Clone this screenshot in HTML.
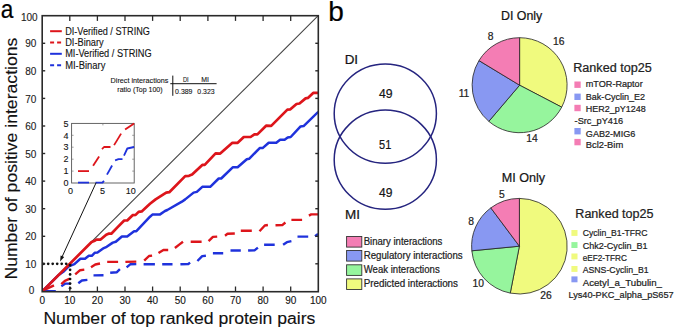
<!DOCTYPE html>
<html><head><meta charset="utf-8"><style>
html,body{margin:0;padding:0;background:#fff;width:675px;height:329px;overflow:hidden;}
svg{display:block;font-family:"Liberation Sans",sans-serif;}
svg text{stroke:#222;stroke-width:0.22px;}
svg text.sm{stroke-width:0.1px;}
svg text.lt{stroke-width:0.12px;}
</style></head><body>
<svg width="675" height="329" viewBox="0 0 675 329">
<rect width="675" height="329" fill="#fff"/>
<text x="0.8" y="17.8" font-size="25.5" font-family="'Liberation Sans', sans-serif" fill="#000" textLength="12.6" lengthAdjust="spacingAndGlyphs">a</text>
<text x="328.2" y="20.8" font-size="27" font-family="'Liberation Sans', sans-serif" fill="#000" textLength="15.6" lengthAdjust="spacingAndGlyphs">b</text>
<line x1="42.2" y1="291.0" x2="318.2" y2="15.7" stroke="#444" stroke-width="1.1"/>
<defs><clipPath id="pc"><rect x="42.2" y="15" width="276.1" height="277"/></clipPath></defs>
<g clip-path="url(#pc)">
<polyline points="43.6,291.3 55.8,291.3" fill="none" stroke="#1f32dc" stroke-width="2.4" stroke-linejoin="round"/>
<polyline points="61.3,286.3 65.5,283.6 70.4,283.6" fill="none" stroke="#1f32dc" stroke-width="2.4" stroke-linejoin="round"/>
<polyline points="78.3,283.2 81.9,280.5 87.4,279.9" fill="none" stroke="#1f32dc" stroke-width="2.4" stroke-linejoin="round"/>
<polyline points="93.5,275.4 103.5,275.2" fill="none" stroke="#1f32dc" stroke-width="2.4" stroke-linejoin="round"/>
<polyline points="110.2,272.8 116.9,272.2 119.9,269.2" fill="none" stroke="#1f32dc" stroke-width="2.4" stroke-linejoin="round"/>
<polyline points="126.6,267.3 130.2,264.3 136.3,264.1" fill="none" stroke="#1f32dc" stroke-width="2.4" stroke-linejoin="round"/>
<polyline points="143.6,264.2 154.9,264.2" fill="none" stroke="#1f32dc" stroke-width="2.4" stroke-linejoin="round"/>
<polyline points="162.2,264.3 172.5,264.3" fill="none" stroke="#1f32dc" stroke-width="2.4" stroke-linejoin="round"/>
<polyline points="180.4,264.3 188.3,264.0 190.1,262.6" fill="none" stroke="#1f32dc" stroke-width="2.4" stroke-linejoin="round"/>
<polyline points="197.4,261.0 202.2,256.1 205.9,255.8" fill="none" stroke="#1f32dc" stroke-width="2.4" stroke-linejoin="round"/>
<polyline points="212.9,253.3 223.2,253.3" fill="none" stroke="#1f32dc" stroke-width="2.4" stroke-linejoin="round"/>
<polyline points="230.5,250.5 240.8,250.5" fill="none" stroke="#1f32dc" stroke-width="2.4" stroke-linejoin="round"/>
<polyline points="248.1,250.5 254.8,250.2 257.9,247.6" fill="none" stroke="#1f32dc" stroke-width="2.4" stroke-linejoin="round"/>
<polyline points="264.1,244.8 274.7,244.8" fill="none" stroke="#1f32dc" stroke-width="2.4" stroke-linejoin="round"/>
<polyline points="283.1,244.8 286.9,242.2 291.4,241.2" fill="none" stroke="#1f32dc" stroke-width="2.4" stroke-linejoin="round"/>
<polyline points="297.5,236.6 308.2,236.6" fill="none" stroke="#1f32dc" stroke-width="2.4" stroke-linejoin="round"/>
<polyline points="315.0,236.2 317.3,234.6 318.8,234.2" fill="none" stroke="#1f32dc" stroke-width="2.4" stroke-linejoin="round"/>
<polyline points="44.9,289.6 54.0,285.4" fill="none" stroke="#dd151b" stroke-width="2.4" stroke-linejoin="round"/>
<polyline points="61.3,284.2 64.9,280.8 69.8,278.7" fill="none" stroke="#dd151b" stroke-width="2.4" stroke-linejoin="round"/>
<polyline points="75.2,274.4 80.1,270.2 84.3,269.6" fill="none" stroke="#dd151b" stroke-width="2.4" stroke-linejoin="round"/>
<polyline points="91.0,267.2 95.3,264.5 100.0,263.5" fill="none" stroke="#dd151b" stroke-width="2.4" stroke-linejoin="round"/>
<polyline points="107.2,261.9 118.1,261.9" fill="none" stroke="#dd151b" stroke-width="2.4" stroke-linejoin="round"/>
<polyline points="125.4,261.9 136.3,261.6" fill="none" stroke="#dd151b" stroke-width="2.4" stroke-linejoin="round"/>
<polyline points="144.2,260.7 149.0,256.0 152.1,255.6" fill="none" stroke="#dd151b" stroke-width="2.4" stroke-linejoin="round"/>
<polyline points="158.5,253.1 163.4,250.0 168.2,250.0" fill="none" stroke="#dd151b" stroke-width="2.4" stroke-linejoin="round"/>
<polyline points="174.9,248.0 179.2,244.6 183.0,241.8" fill="none" stroke="#dd151b" stroke-width="2.4" stroke-linejoin="round"/>
<polyline points="190.7,241.8 201.6,241.8" fill="none" stroke="#dd151b" stroke-width="2.4" stroke-linejoin="round"/>
<polyline points="208.6,241.1 212.9,236.9 217.2,236.6" fill="none" stroke="#dd151b" stroke-width="2.4" stroke-linejoin="round"/>
<polyline points="225.0,235.7 227.5,233.8 234.8,233.5" fill="none" stroke="#dd151b" stroke-width="2.4" stroke-linejoin="round"/>
<polyline points="240.8,230.8 251.8,230.8" fill="none" stroke="#dd151b" stroke-width="2.4" stroke-linejoin="round"/>
<polyline points="259.5,231.2 264.8,225.5 267.9,225.0" fill="none" stroke="#dd151b" stroke-width="2.4" stroke-linejoin="round"/>
<polyline points="275.5,225.2 282.3,225.1 285.4,222.5" fill="none" stroke="#dd151b" stroke-width="2.4" stroke-linejoin="round"/>
<polyline points="291.4,219.9 302.1,219.9" fill="none" stroke="#dd151b" stroke-width="2.4" stroke-linejoin="round"/>
<polyline points="308.9,215.6 311.2,214.4 318.0,214.4" fill="none" stroke="#dd151b" stroke-width="2.4" stroke-linejoin="round"/>
<polyline points="42.4,291.2 58.0,275.6 63.3,271.8 68.8,266.3 74.4,264.1 80.4,258.8 85.0,258.8 88.8,255.8 91.8,255.8 94.9,252.7 97.5,252.6 103.8,248.1 106.7,246.8 112.8,242.6 115.8,241.8 121.9,236.5 127.2,236.5 134.1,231.2 136.4,231.2 150.0,216.7 152.4,214.6 159.7,214.6 165.0,211.0 167.3,210.0 181.9,201.7 185.2,199.4 193.6,192.6 196.8,191.9 202.3,186.8 210.2,186.8 218.7,178.5 221.2,178.5 232.7,167.3 237.6,167.3 246.8,159.2 249.1,158.8 259.7,148.1 262.6,148.1 268.7,142.8 276.3,142.8 280.1,139.8 284.6,139.8 287.7,137.5 290.7,137.0 300.6,126.4 303.6,126.1 318.3,111.8" fill="none" stroke="#1f32dc" stroke-width="2.5" stroke-linejoin="round"/>
<polyline points="42.4,291.2 91.6,242.0 94.1,241.1 96.5,239.6 100.6,239.6 106.2,234.7 108.5,233.7 111.3,233.7 117.4,227.4 124.2,220.5 127.2,220.5 132.6,215.2 135.6,214.9 138.6,211.9 141.7,211.4 150.0,203.8 155.6,199.4 166.2,192.6 169.3,192.2 185.2,176.1 189.0,175.8 192.1,174.6 202.3,164.9 204.7,164.9 215.6,153.4 220.2,153.6 232.4,142.8 237.7,142.8 243.8,137.0 250.6,137.0 254.4,134.4 257.4,134.4 266.1,125.7 271.2,125.9 287.4,109.6 290.4,109.3 296.5,104.0 299.5,103.5 305.6,98.4 307.9,97.9 313.2,92.9 318.3,92.9" fill="none" stroke="#dd151b" stroke-width="2.7" stroke-linejoin="round"/>
</g>
<circle cx="43.7" cy="263.8" r="1.35" fill="#111"/>
<circle cx="48.2" cy="263.8" r="1.35" fill="#111"/>
<circle cx="52.7" cy="263.8" r="1.35" fill="#111"/>
<circle cx="57.2" cy="263.8" r="1.35" fill="#111"/>
<circle cx="61.7" cy="263.8" r="1.35" fill="#111"/>
<circle cx="66.2" cy="263.8" r="1.35" fill="#111"/>
<circle cx="70.1" cy="265.2" r="1.35" fill="#111"/>
<circle cx="70.1" cy="269.8" r="1.35" fill="#111"/>
<circle cx="70.1" cy="274.4" r="1.35" fill="#111"/>
<circle cx="70.1" cy="279.0" r="1.35" fill="#111"/>
<circle cx="70.1" cy="283.6" r="1.35" fill="#111"/>
<circle cx="70.1" cy="288.2" r="1.35" fill="#111"/>
<rect x="42.2" y="15.7" width="276.1" height="276" fill="none" stroke="#2a2a2a" stroke-width="1.6"/>
<line x1="69.8" y1="291.7" x2="69.8" y2="286.5" stroke="#2a2a2a" stroke-width="1.3"/>
<line x1="69.8" y1="15.7" x2="69.8" y2="20.9" stroke="#2a2a2a" stroke-width="1.3"/>
<line x1="42.2" y1="263.8" x2="45.2" y2="263.8" stroke="#2a2a2a" stroke-width="1.4"/>
<line x1="318.3" y1="263.8" x2="315.3" y2="263.8" stroke="#2a2a2a" stroke-width="1.4"/>
<line x1="97.4" y1="291.7" x2="97.4" y2="286.5" stroke="#2a2a2a" stroke-width="1.3"/>
<line x1="97.4" y1="15.7" x2="97.4" y2="20.9" stroke="#2a2a2a" stroke-width="1.3"/>
<line x1="42.2" y1="236.3" x2="45.2" y2="236.3" stroke="#2a2a2a" stroke-width="1.4"/>
<line x1="318.3" y1="236.3" x2="315.3" y2="236.3" stroke="#2a2a2a" stroke-width="1.4"/>
<line x1="125.0" y1="291.7" x2="125.0" y2="286.5" stroke="#2a2a2a" stroke-width="1.3"/>
<line x1="125.0" y1="15.7" x2="125.0" y2="20.9" stroke="#2a2a2a" stroke-width="1.3"/>
<line x1="42.2" y1="208.7" x2="45.2" y2="208.7" stroke="#2a2a2a" stroke-width="1.4"/>
<line x1="318.3" y1="208.7" x2="315.3" y2="208.7" stroke="#2a2a2a" stroke-width="1.4"/>
<line x1="152.6" y1="291.7" x2="152.6" y2="286.5" stroke="#2a2a2a" stroke-width="1.3"/>
<line x1="152.6" y1="15.7" x2="152.6" y2="20.9" stroke="#2a2a2a" stroke-width="1.3"/>
<line x1="42.2" y1="181.1" x2="45.2" y2="181.1" stroke="#2a2a2a" stroke-width="1.4"/>
<line x1="318.3" y1="181.1" x2="315.3" y2="181.1" stroke="#2a2a2a" stroke-width="1.4"/>
<line x1="180.2" y1="291.7" x2="180.2" y2="286.5" stroke="#2a2a2a" stroke-width="1.3"/>
<line x1="180.2" y1="15.7" x2="180.2" y2="20.9" stroke="#2a2a2a" stroke-width="1.3"/>
<line x1="42.2" y1="153.5" x2="45.2" y2="153.5" stroke="#2a2a2a" stroke-width="1.4"/>
<line x1="318.3" y1="153.5" x2="315.3" y2="153.5" stroke="#2a2a2a" stroke-width="1.4"/>
<line x1="207.9" y1="291.7" x2="207.9" y2="286.5" stroke="#2a2a2a" stroke-width="1.3"/>
<line x1="207.9" y1="15.7" x2="207.9" y2="20.9" stroke="#2a2a2a" stroke-width="1.3"/>
<line x1="42.2" y1="126.0" x2="45.2" y2="126.0" stroke="#2a2a2a" stroke-width="1.4"/>
<line x1="318.3" y1="126.0" x2="315.3" y2="126.0" stroke="#2a2a2a" stroke-width="1.4"/>
<line x1="235.5" y1="291.7" x2="235.5" y2="286.5" stroke="#2a2a2a" stroke-width="1.3"/>
<line x1="235.5" y1="15.7" x2="235.5" y2="20.9" stroke="#2a2a2a" stroke-width="1.3"/>
<line x1="42.2" y1="98.4" x2="45.2" y2="98.4" stroke="#2a2a2a" stroke-width="1.4"/>
<line x1="318.3" y1="98.4" x2="315.3" y2="98.4" stroke="#2a2a2a" stroke-width="1.4"/>
<line x1="263.1" y1="291.7" x2="263.1" y2="286.5" stroke="#2a2a2a" stroke-width="1.3"/>
<line x1="263.1" y1="15.7" x2="263.1" y2="20.9" stroke="#2a2a2a" stroke-width="1.3"/>
<line x1="42.2" y1="70.8" x2="45.2" y2="70.8" stroke="#2a2a2a" stroke-width="1.4"/>
<line x1="318.3" y1="70.8" x2="315.3" y2="70.8" stroke="#2a2a2a" stroke-width="1.4"/>
<line x1="290.7" y1="291.7" x2="290.7" y2="286.5" stroke="#2a2a2a" stroke-width="1.3"/>
<line x1="290.7" y1="15.7" x2="290.7" y2="20.9" stroke="#2a2a2a" stroke-width="1.3"/>
<line x1="42.2" y1="43.3" x2="45.2" y2="43.3" stroke="#2a2a2a" stroke-width="1.4"/>
<line x1="318.3" y1="43.3" x2="315.3" y2="43.3" stroke="#2a2a2a" stroke-width="1.4"/>
<text x="42.2" y="304.0" font-size="10" class="lt" font-family="'Liberation Sans', sans-serif" fill="#111" text-anchor="middle">0</text>
<text x="34.4" y="294.0" font-size="10" class="lt" font-family="'Liberation Sans', sans-serif" fill="#222" text-anchor="end">0</text>
<text x="69.8" y="304.0" font-size="10" class="lt" font-family="'Liberation Sans', sans-serif" fill="#111" text-anchor="middle">10</text>
<text x="36.3" y="267.9" font-size="10" class="lt" font-family="'Liberation Sans', sans-serif" fill="#222" text-anchor="end">10</text>
<text x="97.4" y="304.0" font-size="10" class="lt" font-family="'Liberation Sans', sans-serif" fill="#111" text-anchor="middle">20</text>
<text x="36.3" y="240.4" font-size="10" class="lt" font-family="'Liberation Sans', sans-serif" fill="#222" text-anchor="end">20</text>
<text x="125.0" y="304.0" font-size="10" class="lt" font-family="'Liberation Sans', sans-serif" fill="#111" text-anchor="middle">30</text>
<text x="36.3" y="212.8" font-size="10" class="lt" font-family="'Liberation Sans', sans-serif" fill="#222" text-anchor="end">30</text>
<text x="152.6" y="304.0" font-size="10" class="lt" font-family="'Liberation Sans', sans-serif" fill="#111" text-anchor="middle">40</text>
<text x="36.3" y="185.2" font-size="10" class="lt" font-family="'Liberation Sans', sans-serif" fill="#222" text-anchor="end">40</text>
<text x="180.2" y="304.0" font-size="10" class="lt" font-family="'Liberation Sans', sans-serif" fill="#111" text-anchor="middle">50</text>
<text x="36.3" y="157.6" font-size="10" class="lt" font-family="'Liberation Sans', sans-serif" fill="#222" text-anchor="end">50</text>
<text x="207.9" y="304.0" font-size="10" class="lt" font-family="'Liberation Sans', sans-serif" fill="#111" text-anchor="middle">60</text>
<text x="36.3" y="130.1" font-size="10" class="lt" font-family="'Liberation Sans', sans-serif" fill="#222" text-anchor="end">60</text>
<text x="235.5" y="304.0" font-size="10" class="lt" font-family="'Liberation Sans', sans-serif" fill="#111" text-anchor="middle">70</text>
<text x="36.3" y="102.5" font-size="10" class="lt" font-family="'Liberation Sans', sans-serif" fill="#222" text-anchor="end">70</text>
<text x="263.1" y="304.0" font-size="10" class="lt" font-family="'Liberation Sans', sans-serif" fill="#111" text-anchor="middle">80</text>
<text x="36.3" y="74.9" font-size="10" class="lt" font-family="'Liberation Sans', sans-serif" fill="#222" text-anchor="end">80</text>
<text x="290.7" y="304.0" font-size="10" class="lt" font-family="'Liberation Sans', sans-serif" fill="#111" text-anchor="middle">90</text>
<text x="36.3" y="47.4" font-size="10" class="lt" font-family="'Liberation Sans', sans-serif" fill="#222" text-anchor="end">90</text>
<text x="318.3" y="304.0" font-size="10" class="lt" font-family="'Liberation Sans', sans-serif" fill="#111" text-anchor="middle">100</text>
<text x="37.6" y="21.0" font-size="10" class="lt" font-family="'Liberation Sans', sans-serif" fill="#222" text-anchor="end">100</text>
<text x="43.4" y="324" font-size="16" class="lt" font-family="'Liberation Sans', sans-serif" fill="#111" textLength="272" lengthAdjust="spacingAndGlyphs">Number of top ranked protein pairs</text>
<text transform="translate(16.6,279.6) rotate(-90)" x="0" y="0" font-size="16" class="lt" font-family="'Liberation Sans', sans-serif" fill="#111" textLength="242" lengthAdjust="spacingAndGlyphs">Number of positive interactions</text>
<line x1="50.1" y1="31.2" x2="61.8" y2="31.2" stroke="#dd151b" stroke-width="2"/>
<text x="65.2" y="34.8" font-size="10" class="lt" font-family="'Liberation Sans', sans-serif" fill="#111" textLength="84.7" lengthAdjust="spacingAndGlyphs">DI-Verified / STRING</text>
<line x1="50.1" y1="42.6" x2="61.8" y2="42.6" stroke="#dd151b" stroke-width="2" stroke-dasharray="4 3"/>
<text x="65.2" y="46.2" font-size="10" class="lt" font-family="'Liberation Sans', sans-serif" fill="#111" textLength="38.5" lengthAdjust="spacingAndGlyphs">DI-Binary</text>
<line x1="50.1" y1="53.8" x2="61.8" y2="53.8" stroke="#1f32dc" stroke-width="2"/>
<text x="65.2" y="57.4" font-size="10" class="lt" font-family="'Liberation Sans', sans-serif" fill="#111" textLength="86.5" lengthAdjust="spacingAndGlyphs">MI-Verified / STRING</text>
<line x1="50.1" y1="65.3" x2="61.8" y2="65.3" stroke="#1f32dc" stroke-width="2" stroke-dasharray="4 3"/>
<text x="65.2" y="68.89999999999999" font-size="10" class="lt" font-family="'Liberation Sans', sans-serif" fill="#111" textLength="40.2" lengthAdjust="spacingAndGlyphs">MI-Binary</text>
<text x="110.6" y="82.7" font-size="6.8" class="sm" font-family="'Liberation Sans', sans-serif" fill="#111" textLength="57.8" lengthAdjust="spacingAndGlyphs">Direct interactions</text>
<text x="117.3" y="92.0" font-size="6.8" class="sm" font-family="'Liberation Sans', sans-serif" fill="#111" textLength="45.3" lengthAdjust="spacingAndGlyphs">ratio (Top 100)</text>
<line x1="172.8" y1="75.6" x2="172.8" y2="95.8" stroke="#111" stroke-width="1"/>
<line x1="170.3" y1="83.7" x2="216.6" y2="83.7" stroke="#111" stroke-width="1"/>
<text x="182.9" y="81.9" font-size="6.8" class="sm" font-family="'Liberation Sans', sans-serif" fill="#111" textLength="5.7" lengthAdjust="spacingAndGlyphs">DI</text>
<text x="201.2" y="81.9" font-size="6.8" class="sm" font-family="'Liberation Sans', sans-serif" fill="#111" textLength="7.7" lengthAdjust="spacingAndGlyphs">MI</text>
<text x="175.1" y="93.9" font-size="6.8" class="sm" font-family="'Liberation Sans', sans-serif" fill="#111" textLength="17.4" lengthAdjust="spacingAndGlyphs">0.389</text>
<text x="197.3" y="93.9" font-size="6.8" class="sm" font-family="'Liberation Sans', sans-serif" fill="#111" textLength="17.3" lengthAdjust="spacingAndGlyphs">0.323</text>
<rect x="71.6" y="123.4" width="62.599999999999994" height="59.599999999999994" fill="#fff" stroke="#555" stroke-width="0.9"/>
<line x1="71.6" y1="171.1" x2="73.6" y2="171.1" stroke="#777" stroke-width="0.7"/>
<line x1="134.2" y1="171.1" x2="132.2" y2="171.1" stroke="#777" stroke-width="0.7"/>
<line x1="71.6" y1="159.2" x2="73.6" y2="159.2" stroke="#777" stroke-width="0.7"/>
<line x1="134.2" y1="159.2" x2="132.2" y2="159.2" stroke="#777" stroke-width="0.7"/>
<line x1="71.6" y1="147.2" x2="73.6" y2="147.2" stroke="#777" stroke-width="0.7"/>
<line x1="134.2" y1="147.2" x2="132.2" y2="147.2" stroke="#777" stroke-width="0.7"/>
<line x1="71.6" y1="135.3" x2="73.6" y2="135.3" stroke="#777" stroke-width="0.7"/>
<line x1="134.2" y1="135.3" x2="132.2" y2="135.3" stroke="#777" stroke-width="0.7"/>
<line x1="102.9" y1="123.4" x2="102.9" y2="125.4" stroke="#777" stroke-width="0.7"/>
<line x1="102.9" y1="183.0" x2="102.9" y2="181.0" stroke="#777" stroke-width="0.7"/>
<polyline points="78.0,182.6 89.0,182.6" fill="none" stroke="#1f32dc" stroke-width="1.8" stroke-linejoin="round"/>
<polyline points="95.5,182.6 102.5,182.6 104.0,180.8" fill="none" stroke="#1f32dc" stroke-width="1.8" stroke-linejoin="round"/>
<polyline points="107.0,174.6 112.1,165.5" fill="none" stroke="#1f32dc" stroke-width="1.8" stroke-linejoin="round"/>
<polyline points="115.1,160.4 118.5,159.1 122.5,159.1" fill="none" stroke="#1f32dc" stroke-width="1.8" stroke-linejoin="round"/>
<polyline points="124.0,155.6 127.3,148.5 134.1,147.0" fill="none" stroke="#1f32dc" stroke-width="1.8" stroke-linejoin="round"/>
<polyline points="78.0,171.1 89.0,171.1" fill="none" stroke="#dd151b" stroke-width="1.8" stroke-linejoin="round"/>
<polyline points="93.1,165.7 99.1,156.4" fill="none" stroke="#dd151b" stroke-width="1.8" stroke-linejoin="round"/>
<polyline points="102.0,149.1 104.0,147.0 110.5,147.0" fill="none" stroke="#dd151b" stroke-width="1.8" stroke-linejoin="round"/>
<polyline points="114.1,145.1 121.1,133.6" fill="none" stroke="#dd151b" stroke-width="1.8" stroke-linejoin="round"/>
<polyline points="125.1,129.6 134.1,123.4" fill="none" stroke="#dd151b" stroke-width="1.8" stroke-linejoin="round"/>
<text x="68.6" y="186.2" font-size="9" class="lt" font-family="'Liberation Sans', sans-serif" fill="#111" text-anchor="end">0</text>
<text x="68.6" y="174.3" font-size="9" class="lt" font-family="'Liberation Sans', sans-serif" fill="#111" text-anchor="end">1</text>
<text x="68.6" y="162.4" font-size="9" class="lt" font-family="'Liberation Sans', sans-serif" fill="#111" text-anchor="end">2</text>
<text x="68.6" y="150.4" font-size="9" class="lt" font-family="'Liberation Sans', sans-serif" fill="#111" text-anchor="end">3</text>
<text x="68.6" y="138.5" font-size="9" class="lt" font-family="'Liberation Sans', sans-serif" fill="#111" text-anchor="end">4</text>
<text x="68.6" y="126.6" font-size="9" class="lt" font-family="'Liberation Sans', sans-serif" fill="#111" text-anchor="end">5</text>
<text x="70.6" y="194.1" font-size="9" class="lt" font-family="'Liberation Sans', sans-serif" fill="#111" text-anchor="middle">0</text>
<text x="102.6" y="194.1" font-size="9" class="lt" font-family="'Liberation Sans', sans-serif" fill="#111" text-anchor="middle">5</text>
<text x="130.8" y="194.1" font-size="9" class="lt" font-family="'Liberation Sans', sans-serif" fill="#111" text-anchor="middle">10</text>
<line x1="96.1" y1="182.7" x2="62" y2="257" stroke="#111" stroke-width="1"/>
<path d="M60.1,261.4 L60.6,255.4 L64.2,257.1 Z" fill="#111"/>
<ellipse cx="385.3" cy="113.6" rx="51.1" ry="49.6" fill="none" stroke="#25247f" stroke-width="1.5"/>
<ellipse cx="385.3" cy="159.7" rx="51.1" ry="49.6" fill="none" stroke="#25247f" stroke-width="1.5"/>
<text x="344.7" y="64" font-size="12" font-family="'Liberation Sans', sans-serif" fill="#111" textLength="13.4" lengthAdjust="spacingAndGlyphs">DI</text>
<text x="345.0" y="219.2" font-size="12.3" font-family="'Liberation Sans', sans-serif" fill="#111" textLength="15" lengthAdjust="spacingAndGlyphs">MI</text>
<text x="379" y="98" font-size="12.5" font-family="'Liberation Sans', sans-serif" fill="#111" textLength="13.6" lengthAdjust="spacingAndGlyphs">49</text>
<text x="379.1" y="149.3" font-size="12.5" font-family="'Liberation Sans', sans-serif" fill="#111" textLength="12.2" lengthAdjust="spacingAndGlyphs">51</text>
<text x="379.1" y="197" font-size="12.5" font-family="'Liberation Sans', sans-serif" fill="#111" textLength="13.4" lengthAdjust="spacingAndGlyphs">49</text>
<rect x="346.6" y="236.5" width="15.2" height="10.6" fill="#f47db4" stroke="#333" stroke-width="0.9"/>
<text x="363.7" y="244.7" font-size="10" font-family="'Liberation Sans', sans-serif" fill="#222" textLength="78.7" lengthAdjust="spacingAndGlyphs">Binary interactions</text>
<rect x="346.6" y="250.5" width="15.2" height="10.6" fill="#8898f2" stroke="#333" stroke-width="0.9"/>
<text x="363.7" y="258.7" font-size="10" font-family="'Liberation Sans', sans-serif" fill="#222" textLength="99.0" lengthAdjust="spacingAndGlyphs">Regulatory interactions</text>
<rect x="346.6" y="264.79999999999995" width="15.2" height="10.6" fill="#96f59d" stroke="#333" stroke-width="0.9"/>
<text x="363.7" y="273.0" font-size="10" font-family="'Liberation Sans', sans-serif" fill="#222" textLength="76.0" lengthAdjust="spacingAndGlyphs">Weak interactions</text>
<rect x="346.6" y="278.9" width="15.2" height="10.6" fill="#f0fa7e" stroke="#333" stroke-width="0.9"/>
<text x="363.7" y="287.1" font-size="10" font-family="'Liberation Sans', sans-serif" fill="#222" textLength="94.3" lengthAdjust="spacingAndGlyphs">Predicted interactions</text>
<path d="M519.6,85.2 L519.60,37.70 A47.5,47.5 0 0 1 561.71,107.17 Z" fill="#f0fa7e" stroke="#222" stroke-width="0.8" stroke-linejoin="round"/>
<path d="M519.6,85.2 L561.71,107.17 A47.5,47.5 0 0 1 488.81,121.37 Z" fill="#96f59d" stroke="#222" stroke-width="0.8" stroke-linejoin="round"/>
<path d="M519.6,85.2 L488.81,121.37 A47.5,47.5 0 0 1 478.98,60.58 Z" fill="#8898f2" stroke="#222" stroke-width="0.8" stroke-linejoin="round"/>
<path d="M519.6,85.2 L478.98,60.58 A47.5,47.5 0 0 1 519.60,37.70 Z" fill="#f47db4" stroke="#222" stroke-width="0.8" stroke-linejoin="round"/>
<path d="M519.4,246.2 L519.40,198.40 A47.8,47.8 0 1 1 510.26,293.12 Z" fill="#f0fa7e" stroke="#222" stroke-width="0.8" stroke-linejoin="round"/>
<path d="M519.4,246.2 L510.26,293.12 A47.8,47.8 0 0 1 471.82,250.79 Z" fill="#96f59d" stroke="#222" stroke-width="0.8" stroke-linejoin="round"/>
<path d="M519.4,246.2 L471.82,250.79 A47.8,47.8 0 0 1 490.81,207.89 Z" fill="#8898f2" stroke="#222" stroke-width="0.8" stroke-linejoin="round"/>
<path d="M519.4,246.2 L490.81,207.89 A47.8,47.8 0 0 1 519.40,198.40 Z" fill="#f47db4" stroke="#222" stroke-width="0.8" stroke-linejoin="round"/>
<text x="501" y="20.2" font-size="12" font-family="'Liberation Sans', sans-serif" fill="#111" textLength="41.3" lengthAdjust="spacingAndGlyphs">DI Only</text>
<text x="501.7" y="182.3" font-size="12.8" font-family="'Liberation Sans', sans-serif" fill="#111" textLength="43.4" lengthAdjust="spacingAndGlyphs">MI Only</text>
<text x="490.65" y="39.6" font-size="10.3" font-family="'Liberation Sans', sans-serif" fill="#222" text-anchor="middle">8</text>
<text x="558.75" y="44.8" font-size="10.3" font-family="'Liberation Sans', sans-serif" fill="#222" text-anchor="middle">16</text>
<text x="464" y="96.8" font-size="10.3" font-family="'Liberation Sans', sans-serif" fill="#222" text-anchor="middle">11</text>
<text x="532" y="141.6" font-size="10.3" font-family="'Liberation Sans', sans-serif" fill="#222" text-anchor="middle">14</text>
<text x="501.8" y="197.8" font-size="10.3" font-family="'Liberation Sans', sans-serif" fill="#222" text-anchor="middle">5</text>
<text x="471.1" y="224.6" font-size="10.3" font-family="'Liberation Sans', sans-serif" fill="#222" text-anchor="middle">8</text>
<text x="478.2" y="286.8" font-size="10.3" font-family="'Liberation Sans', sans-serif" fill="#222" text-anchor="middle">10</text>
<text x="545.95" y="298.5" font-size="10.3" font-family="'Liberation Sans', sans-serif" fill="#222" text-anchor="middle">26</text>
<text x="573.2" y="71.9" font-size="12" font-family="'Liberation Sans', sans-serif" fill="#222" textLength="78.6" lengthAdjust="spacingAndGlyphs">Ranked top25</text>
<rect x="574.4" y="81.5" width="6.3" height="6.4" fill="#f47db4"/>
<text x="585.8" y="87.3" font-size="9.7" font-family="'Liberation Sans', sans-serif" fill="#222" textLength="56.9" lengthAdjust="spacingAndGlyphs">mTOR-Raptor</text>
<rect x="574.4" y="93.6" width="6.3" height="6.4" fill="#8898f2"/>
<text x="585.8" y="99.8" font-size="9.7" font-family="'Liberation Sans', sans-serif" fill="#222" textLength="59.3" lengthAdjust="spacingAndGlyphs">Bak-Cyclin_E2</text>
<rect x="574.4" y="104.8" width="6.3" height="6.4" fill="#f47db4"/>
<text x="585.8" y="111.5" font-size="9.7" font-family="'Liberation Sans', sans-serif" fill="#222" textLength="59.9" lengthAdjust="spacingAndGlyphs">HER2_pY1248</text>
<text x="574.6" y="124.2" font-size="9.7" font-family="'Liberation Sans', sans-serif" fill="#222" textLength="48.6" lengthAdjust="spacingAndGlyphs">-Src_pY416</text>
<rect x="574.4" y="128.0" width="6.3" height="6.4" fill="#8898f2"/>
<text x="585.8" y="136.6" font-size="9.7" font-family="'Liberation Sans', sans-serif" fill="#222" textLength="49.6" lengthAdjust="spacingAndGlyphs">GAB2-MIG6</text>
<rect x="574.4" y="138.9" width="6.3" height="6.4" fill="#f47db4"/>
<text x="585.8" y="147.8" font-size="9.7" font-family="'Liberation Sans', sans-serif" fill="#222" textLength="37.4" lengthAdjust="spacingAndGlyphs">Bcl2-Bim</text>
<text x="575.3" y="218.3" font-size="12" font-family="'Liberation Sans', sans-serif" fill="#222" textLength="78.3" lengthAdjust="spacingAndGlyphs">Ranked top25</text>
<rect x="571.4" y="230" width="6.1" height="5.9" fill="#f0fa7e"/>
<text x="582.7" y="236.4" font-size="9.7" font-family="'Liberation Sans', sans-serif" fill="#222" textLength="64.9" lengthAdjust="spacingAndGlyphs">Cyclin_B1-TFRC</text>
<rect x="571.4" y="242.1" width="6.1" height="5.9" fill="#96f59d"/>
<text x="582.7" y="248.9" font-size="9.7" font-family="'Liberation Sans', sans-serif" fill="#222" textLength="64.9" lengthAdjust="spacingAndGlyphs">Chk2-Cyclin_B1</text>
<rect x="571.4" y="253.5" width="6.1" height="5.9" fill="#f0fa7e"/>
<text x="582.7" y="261" font-size="9.7" font-family="'Liberation Sans', sans-serif" fill="#222" textLength="44.2" lengthAdjust="spacingAndGlyphs">eEF2-TFRC</text>
<rect x="571.4" y="266" width="6.1" height="5.9" fill="#f0fa7e"/>
<text x="582.7" y="273.3" font-size="9.7" font-family="'Liberation Sans', sans-serif" fill="#222" textLength="65.9" lengthAdjust="spacingAndGlyphs">ASNS-Cyclin_B1</text>
<rect x="571.4" y="276.4" width="6.1" height="5.9" fill="#8898f2"/>
<text x="582.7" y="285.5" font-size="9.7" font-family="'Liberation Sans', sans-serif" fill="#222" textLength="79.3" lengthAdjust="spacingAndGlyphs">Acetyl_a_Tubulin_</text>
<text x="568.4" y="297.9" font-size="9.7" font-family="'Liberation Sans', sans-serif" fill="#222" textLength="105.3" lengthAdjust="spacingAndGlyphs">Lys40-PKC_alpha_pS657</text>
</svg>
</body></html>
